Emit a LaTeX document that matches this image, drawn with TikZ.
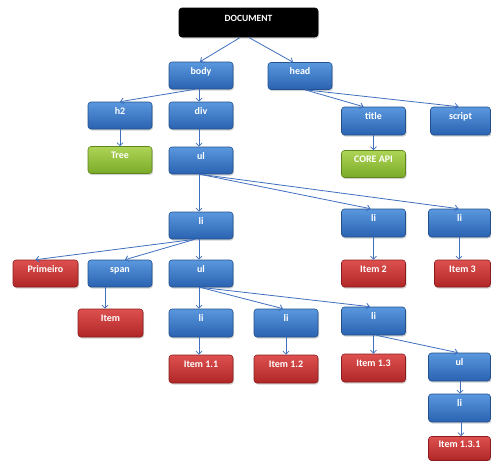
\documentclass[tikz,border=0pt]{standalone}
\usepackage{fontspec}
\setmainfont{Carlito}
\usetikzlibrary{arrows.meta,shadows}
\definecolor{bluetop}{HTML}{5A98DE}
\definecolor{bluebot}{HTML}{2A62B0}
\definecolor{blueedge}{HTML}{23508C}
\definecolor{redtop}{HTML}{DE5050}
\definecolor{redbot}{HTML}{B02626}
\definecolor{rededge}{HTML}{8A1C1C}
\definecolor{greentop}{HTML}{AED456}
\definecolor{greenbot}{HTML}{7AAA28}
\definecolor{greenedge}{HTML}{5E861E}
\definecolor{linkcol}{HTML}{3F6FBE}
\tikzset{
  box/.style={rounded corners=3pt, minimum width=64pt, minimum height=27pt,
    inner ysep=6pt, text height=6pt, text depth=9pt, text=white,
    font=\fontsize{10}{11}\selectfont\bfseries, line width=0.6pt,
    drop shadow={shadow xshift=1pt, shadow yshift=-1.5pt, opacity=0.35}},
  bluebox/.style={box, draw=blueedge, top color=bluetop, bottom color=bluebot},
  redbox/.style={box, draw=rededge, top color=redtop, bottom color=redbot},
  greenbox/.style={box, draw=greenedge, top color=greentop, bottom color=greenbot},
  docbox/.style={box, fill=black, draw=black, minimum width=139pt, minimum height=29pt, inner ysep=7pt,
    font=\fontsize{9.5}{10}\selectfont\bfseries},
  link/.style={draw=linkcol, line width=0.8pt, -{Straight Barb[length=3pt,width=6pt]}}
}
\begin{document}
\begin{tikzpicture}[x=1pt,y=-1pt]
\useasboundingbox (0,0) rectangle (491,461);
% nodes
\node[docbox] (doc) at (248.5,22.5) {DOCUMENT};
\node[bluebox] (body) at (201,75.5) {body};
\node[bluebox] (head) at (300,76) {head};
\node[bluebox] (h2) at (120,115.5) {h2};
\node[bluebox] (div) at (201,115.5) {div};
\node[bluebox,minimum height=28pt] (title) at (373.5,121) {title};
\node[bluebox,minimum width=60pt,minimum height=28pt] (script) at (460.5,121) {script};
\node[greenbox] (tree) at (120,160) {Tree};
\node[bluebox] (ul1) at (201,160.5) {ul};
\node[greenbox] (core) at (373.5,164) {CORE API};
\node[bluebox] (li1) at (201,225.5) {li};
\node[bluebox,minimum height=28pt] (li2) at (373.5,223) {li};
\node[bluebox,minimum width=62pt,minimum height=28pt] (li3) at (459.5,223) {li};
\node[redbox,minimum width=65pt] (prim) at (45.5,273.5) {Primeiro};
\node[bluebox] (span) at (120,273.5) {span};
\node[bluebox] (ul2) at (201,273.5) {ul};
\node[redbox] (item2) at (373.5,273.5) {Item 2};
\node[redbox,minimum width=56pt] (item3) at (462.5,273.5) {Item 3};
\node[redbox,minimum width=65pt,minimum height=28pt] (item) at (110.5,323) {Item};
\node[bluebox,minimum height=28pt] (l11) at (201,323) {li};
\node[bluebox,minimum height=28pt] (l12) at (286,323) {li};
\node[bluebox,minimum height=28pt] (l13) at (373.5,321) {li};
\node[redbox,minimum height=28pt] (i11) at (201,369) {Item 1.1};
\node[redbox,minimum height=28pt] (i12) at (286,369) {Item 1.2};
\node[redbox,minimum height=28pt] (i13) at (373.5,368) {Item 1.3};
\node[bluebox,minimum width=62pt,minimum height=28pt] (ul3) at (459.5,367) {ul};
\node[bluebox,minimum width=62pt,minimum height=28pt] (li4) at (459.5,408) {li};
\node[redbox,minimum width=62pt,minimum height=24pt,inner ysep=4.5pt] (i131) at (459.5,448.5) {Item 1.3.1};
% connectors
\draw[link] ([xshift=-8pt]doc.south) -- ([xshift=-1pt]body.north);
\draw[link] ([xshift=0pt]doc.south) -- ([xshift=-7pt]head.north);
\draw[link] ([xshift=-6pt]body.south) -- (h2.north);
\draw[link] ([xshift=-2pt]body.south) -- ([xshift=-2pt]div.north);
\draw[link] ([xshift=5pt]head.south) -- ([xshift=-10pt]title.north);
\draw[link] ([xshift=5pt]head.south) -- ([xshift=-2pt]script.north);
\draw[link] (h2.south) -- (tree.north);
\draw[link] ([xshift=-2pt]div.south) -- ([xshift=-2pt]ul1.north);
\draw[link] (title.south) -- (core.north);
\draw[link] ([xshift=-2pt]ul1.south) -- ([xshift=-2pt]li1.north);
\draw[link] ([xshift=-1pt]ul1.south) -- ([xshift=-3pt]li2.north);
\draw[link] ([xshift=-1pt]ul1.south) -- ([xshift=-1pt]li3.north);
\draw[link] ([xshift=-6pt]li1.south) -- ([xshift=-10pt]prim.north);
\draw[link] ([xshift=-6pt]li1.south) -- ([xshift=5pt]span.north);
\draw[link] ([xshift=-2pt]li1.south) -- ([xshift=-2pt]ul2.north);
\draw[link] (li2.south) -- (item2.north);
\draw[link] ([xshift=-0.5pt]li3.south) -- ([xshift=-3.5pt]item3.north);
\draw[link] ([xshift=-15pt]span.south) -- ([xshift=-5.5pt]item.north);
\draw[link] ([xshift=-2pt]ul2.south) -- ([xshift=-2pt]l11.north);
\draw[link] ([xshift=-1pt]ul2.south) -- ([xshift=-3pt]l12.north);
\draw[link] ([xshift=-1pt]ul2.south) -- ([xshift=-3.5pt]l13.north);
\draw[link] ([xshift=-2pt]l11.south) -- ([xshift=-2pt]i11.north);
\draw[link] (l12.south) -- (i12.north);
\draw[link] (l13.south) -- (i13.north);
\draw[link] ([xshift=3pt]l13.south) -- ([xshift=-1.5pt]ul3.north);
\draw[link] ([xshift=0.5pt]ul3.south) -- ([xshift=0.5pt]li4.north);
\draw[link] ([xshift=1.5pt]li4.south) -- ([xshift=1.5pt]i131.north);
\end{tikzpicture}
\end{document}
